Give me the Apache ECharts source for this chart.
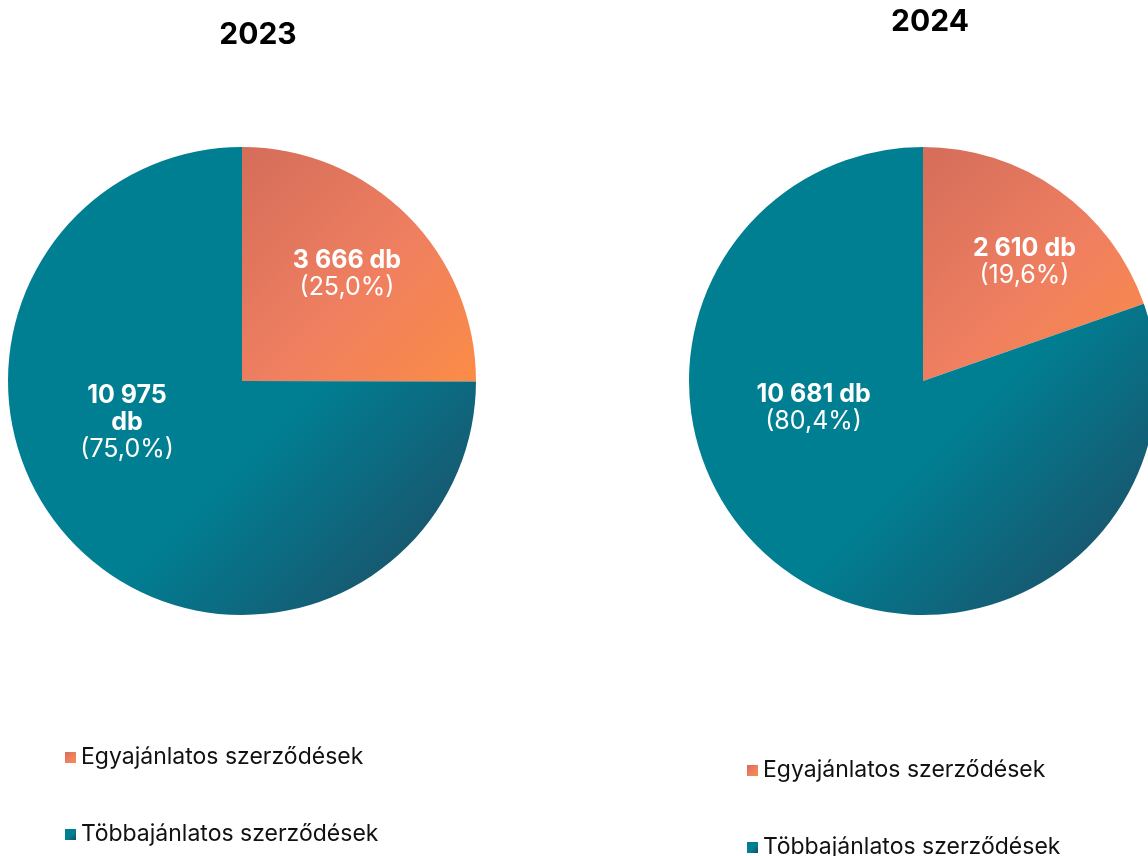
<!DOCTYPE html>
<html>
<head>
<meta charset="utf-8">
<script src="https://cdn.jsdelivr.net/npm/echarts@6/dist/echarts.min.js"></script>
<style>
  html, body { margin: 0; padding: 0; background: #fff; }
  #chart { width: 1148px; height: 856px; }
</style>
</head>
<body>
<div id="chart"></div>
<script>
const years = ['2023', '2024'];
const categories = ['Egyajánlatos szerződések', 'Többajánlatos szerződések'];
const values2023 = [3666, 10975];
const values2024 = [2610, 10681];

// label nudges (dx, dy) per year / slice, to sit where the original had them
const labelShift = [
  [[20, -22], [-30, -43]],
  [[32, -21], [-40, -71]]
];
// the left big label wraps "db" on its own line
const dbSep = [[' ', '\n'], [' ', ' ']];

const orangeGrad = new echarts.graphic.LinearGradient(0, 0, 1, 1, [
  { offset: 0, color: '#d46d5a' },
  { offset: 0.55, color: '#ef7f60' },
  { offset: 1, color: '#fb8c46' }
]);
const tealGrad = new echarts.graphic.LinearGradient(0, 0, 1, 1, [
  { offset: 0, color: '#007f93' },
  { offset: 0.58, color: '#007f93' },
  { offset: 1, color: '#22465f' }
]);
const colors = [orangeGrad, tealGrad];

function fmtNum(n) {
  return String(n).replace(/\B(?=(\d{3})+(?!\d))/g, ' ');
}

const chart = echarts.init(document.getElementById('chart'));

function makeSeries(idx, values, center) {
  return {
    name: years[idx],
    type: 'pie',
    center: center,
    radius: 234,
    startAngle: 90,
    clockwise: true,
    animation: false,
    silent: true,
    data: categories.map((c, i) => ({
      name: c,
      value: values[i],
      itemStyle: { color: colors[i] }
    })),
    label: {
      position: 'inside',
      color: '#fff',
      fontFamily: 'Inter',
      lineHeight: 27,
      formatter: p => {
        const num = fmtNum(p.value);
        const pct = p.percent.toFixed(1).replace('.', ',');
        return '{b|' + num + dbSep[idx][p.dataIndex].replace('\n', '}\n{b|') + 'db}\n{n|(' + pct + '%)}';
      },
      rich: {
        b: { fontSize: 25, fontWeight: 'bold', color: '#fff', fontFamily: 'Inter', lineHeight: 27 },
        n: { fontSize: 25, color: '#fff', fontFamily: 'Inter', lineHeight: 27 }
      }
    },
    labelLayout: p => ({
      dx: labelShift[idx][p.dataIndex][0],
      dy: labelShift[idx][p.dataIndex][1]
    }),
    labelLine: { show: false },
    itemStyle: { borderWidth: 0 }
  };
}

const legendBase = {
  orient: 'vertical',
  icon: 'rect',
  itemWidth: 11,
  itemHeight: 11,
  itemGap: 54,
  padding: 0,
  height: 100,
  selectedMode: false,
  textStyle: { fontSize: 23, lineHeight: 21, color: '#111', fontFamily: 'Inter' },
  data: categories
};

chart.setOption({
  backgroundColor: '#fff',
  title: [
    {
      text: years[0], left: 253, top: 15, textAlign: 'center',
      textStyle: { fontSize: 30, fontWeight: 'bold', color: '#000', fontFamily: 'Inter' }
    },
    {
      text: years[1], left: 925, top: 2, textAlign: 'center',
      textStyle: { fontSize: 30, fontWeight: 'bold', color: '#000', fontFamily: 'Inter' }
    }
  ],
  legend: [
    Object.assign({}, legendBase, { left: 65, top: 746 }),
    Object.assign({}, legendBase, { left: 747, top: 759 })
  ],
  series: [
    makeSeries(0, values2023, [242, 381]),
    makeSeries(1, values2024, [923, 381])
  ]
});

window.addEventListener('resize', () => {
  chart.resize();
});
</script>
</body>
</html>
